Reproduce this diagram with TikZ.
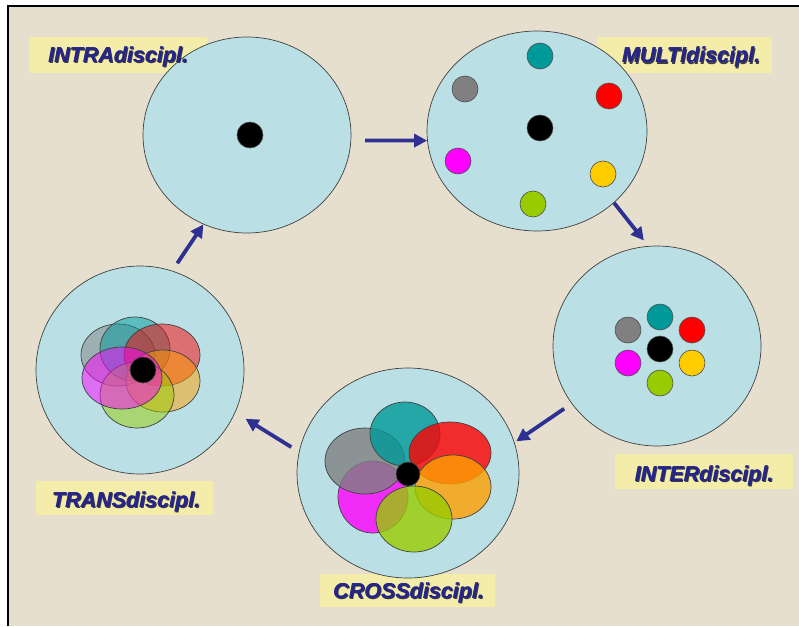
\documentclass[tikz,border=0pt]{standalone}
\usepackage{fontspec}
\setmainfont{Liberation Sans}
\usetikzlibrary{shapes.geometric,arrows.meta}
\definecolor{paper}{RGB}{231,223,205}
\definecolor{discblue}{RGB}{186,224,229}
\definecolor{arrowblue}{RGB}{46,49,146}
\definecolor{textblue}{RGB}{38,38,135}
\definecolor{boxyellow}{RGB}{246,241,160}
\definecolor{cteal}{RGB}{0,153,153}
\definecolor{cgray}{RGB}{128,128,128}
\definecolor{cred}{RGB}{255,0,0}
\definecolor{cmag}{RGB}{255,0,255}
\definecolor{cyel}{RGB}{255,204,0}
\definecolor{cgreen}{RGB}{153,204,0}
\definecolor{corange}{RGB}{255,160,0}
\begin{document}
\begin{tikzpicture}[x=1pt,y=-1pt,
  disc/.style={ellipse, draw=black!75, line width=0.7pt, fill=discblue, inner sep=0pt},
  dot/.style={circle, draw=black!70, line width=0.6pt, inner sep=0pt, minimum size=26pt},
  petal/.style={ellipse, draw=black!75, line width=0.7pt, inner sep=0pt},
  arr/.style={draw=arrowblue, line width=3.8pt, -{Triangle[length=13pt,width=13pt]}},
  lblbox/.style={rectangle, fill=boxyellow, fill opacity=0.8, inner sep=0pt},
  lblfont/.style={font=\fontsize{21.5}{24}\selectfont\bfseries\itshape, inner sep=0pt, anchor=base},
  lbl/.style={lblfont, text=textblue},
  shd/.style={lblfont, text=black!85!blue, text opacity=0.75}
]
\useasboundingbox (0,0) rectangle (799,626);
\fill[white] (0,0) rectangle (799,626);
\fill[paper] (8,6) rectangle (799,626);
\draw[line width=1.5pt] (8,626) -- (8,6) -- (799,6);

% label boxes
\node[lblbox, minimum width=178pt, minimum height=36pt] (bintra) at (118,55) {};
\node[lblbox, minimum width=175pt, minimum height=36pt] (bmulti) at (684.5,55) {};
\node[lblbox, minimum width=178pt, minimum height=35pt] (binter) at (704,471.5) {};
\node[lblbox, minimum width=175pt, minimum height=33pt] (bcross) at (407.5,590.5) {};
\node[lblbox, minimum width=177pt, minimum height=34pt] (btrans) at (124.5,498) {};

% discs
\node[disc, minimum width=208pt, minimum height=196pt] (intra) at (247,135) {};
\node[disc, minimum width=220pt, minimum height=200pt] (multi) at (537,131) {};
\node[disc, minimum width=208pt, minimum height=200pt] (inter) at (657,346) {};
\node[disc, minimum width=222pt, minimum height=210pt] (cross) at (408,473) {};
\node[disc, minimum width=208pt, minimum height=208pt] (trans) at (140,370) {};

% INTRA
\node[dot, fill=black] (i0) at (250,135) {};

% MULTI
\node[dot, fill=cteal] (m1) at (540,56) {};
\node[dot, fill=cgray] (m2) at (465,89) {};
\node[dot, fill=cred] (m3) at (609,96) {};
\node[dot, fill=black] (m0) at (540,128) {};
\node[dot, fill=cmag] (m4) at (458,161) {};
\node[dot, fill=cyel] (m5) at (603,174) {};
\node[dot, fill=cgreen] (m6) at (533,204) {};

% INTER
\node[dot, fill=cteal] (n1) at (660,317) {};
\node[dot, fill=cgray] (n2) at (628,330) {};
\node[dot, fill=cred] (n3) at (692,330) {};
\node[dot, fill=black] (n0) at (660,349) {};
\node[dot, fill=cmag] (n4) at (628,363) {};
\node[dot, fill=cyel] (n5) at (692,363) {};
\node[dot, fill=cgreen] (n6) at (660,383) {};

% CROSS
\begin{scope}[every node/.append style={fill opacity=0.8}]
\node[petal, fill=cmag, minimum width=70pt, minimum height=72pt] (c4) at (373,497) {};
\node[petal, fill=cgray, minimum width=80pt, minimum height=66pt] (c2) at (365,461) {};
\node[petal, fill=cteal, minimum width=70pt, minimum height=64pt] (c1) at (405,434) {};
\node[petal, fill=cred, minimum width=82pt, minimum height=62pt] (c3) at (450,453) {};
\node[petal, fill=corange, minimum width=76pt, minimum height=64pt] (c5) at (453,487) {};
\node[petal, fill=cgreen, minimum width=76pt, minimum height=66pt] (c6) at (414,519) {};
\end{scope}
\node[dot, fill=black, minimum size=24pt] (c0) at (408,474) {};

% TRANS
\begin{scope}[every node/.append style={fill opacity=0.5}]
\node[petal, fill=cgray, minimum width=74pt, minimum height=62pt] (t2) at (118,355) {};
\node[petal, fill=cteal, minimum width=70pt, minimum height=64pt] (t1) at (135,349) {};
\node[petal, fill=cred, minimum width=76pt, minimum height=62pt] (t3) at (162,355) {};
\node[petal, fill=corange, minimum width=74pt, minimum height=62pt] (t5) at (163,381) {};
\node[petal, fill=cgreen, minimum width=74pt, minimum height=66pt] (t6) at (137,395) {};
\node[petal, fill=cmag, minimum width=80pt, minimum height=62pt] (t4) at (122,378) {};
\end{scope}
\node[dot, fill=black] (t0) at (143,370) {};

% arrows
\draw[arr, shorten <=14pt] (intra.-3) -- (multi.185);
\draw[arr, shorten >=7pt] (multi.-43) -- (inter.95);
\draw[arr, shorten <=9pt, shorten >=2pt] (inter.214) -- (cross.16);
\draw[arr, shorten <=9pt, shorten >=12pt] (cross.169) -- (trans.-24);
\draw[arr, shorten <=9pt] (trans.72) -- (intra.244);

% labels (shadow, then text set twice for extra weight)
\node[shd] (sintra) at (119.2,63.2) {INTRAdiscipl.};
\node[lbl] (lintra) at (118,62) {INTRAdiscipl.};
\node[lbl] (kintra) at (118.4,62) {INTRAdiscipl.};
\node[shd] (smulti) at (692.2,64.2) {MULTIdiscipl.};
\node[lbl] (lmulti) at (691,63) {MULTIdiscipl.};
\node[lbl] (kmulti) at (691.4,63) {MULTIdiscipl.};
\node[shd] (sinter) at (705.2,482.2) {INTERdiscipl.};
\node[lbl] (linter) at (704,481) {INTERdiscipl.};
\node[lbl] (kinter) at (704.4,481) {INTERdiscipl.};
\node[shd] (scross) at (409.7,599.2) {CROSSdiscipl.};
\node[lbl] (lcross) at (408.5,598) {CROSSdiscipl.};
\node[lbl] (kcross) at (408.9,598) {CROSSdiscipl.};
\node[shd] (strans) at (127.2,508.2) {TRANSdiscipl.};
\node[lbl] (ltrans) at (126,507) {TRANSdiscipl.};
\node[lbl] (ktrans) at (126.4,507) {TRANSdiscipl.};
\end{tikzpicture}
\end{document}
